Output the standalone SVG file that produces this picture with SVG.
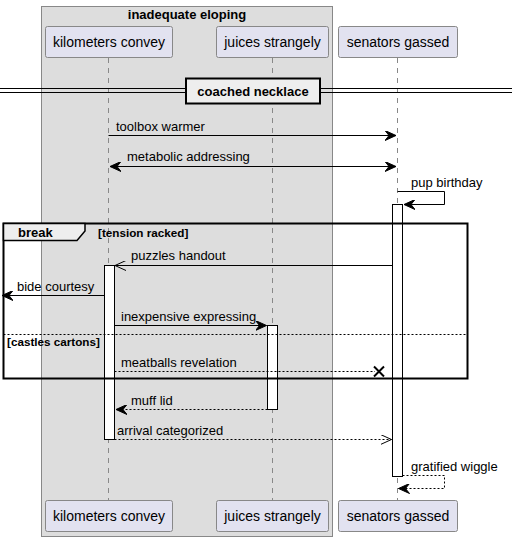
<svg xmlns="http://www.w3.org/2000/svg" width="512" height="541" viewBox="0 0 512 541">
<style>
text{font-family:"Liberation Sans",Arial,sans-serif;fill:#000}
.pt{font-size:14px}
.msg{font-size:13px}
.b{font-size:13px;font-weight:bold}
.g{font-size:11.7px;font-weight:bold}
.pbox{fill:#E2E2F0;stroke:#888;stroke-width:1}
.life{stroke:#888;stroke-width:1;stroke-dasharray:5,5}
.act{fill:#fff;stroke:#000;stroke-width:1}
.m{stroke:#000;stroke-width:1;fill:none}
.d{stroke-dasharray:2,2}
</style>
<defs>
<marker id="fa" viewBox="0 0 12 10" refX="11" refY="5" markerWidth="12" markerHeight="10" markerUnits="userSpaceOnUse" orient="auto-start-reverse">
<path d="M0,0 L11,5 L0,10 L4,5 Z" fill="#000" stroke="#000" stroke-width="1"/>
</marker>
<marker id="oa" viewBox="0 0 12 10" refX="11" refY="5" markerWidth="12" markerHeight="10" markerUnits="userSpaceOnUse" orient="auto">
<path d="M0,0 L11,5 L0,10" fill="none" stroke="#000" stroke-width="1"/>
</marker>
</defs>
<g id="box-inadequate-eloping">
<rect x="41.5" y="6.5" width="291" height="530" fill="#DDDDDD" stroke="#888"/>
<text class="b" x="187" y="19" text-anchor="middle">inadequate eloping</text>
</g>
<g id="lifelines">
<line class="life" x1="108.5" y1="58" x2="108.5" y2="501"/>
<line class="life" x1="272.5" y1="58" x2="272.5" y2="501"/>
<line class="life" x1="397.5" y1="58" x2="397.5" y2="501"/>
</g>
<g id="divider-coached-necklace">
<line x1="0" y1="88.5" x2="512" y2="88.5" stroke="#000"/>
<line x1="0" y1="92.5" x2="512" y2="92.5" stroke="#000"/>
<rect x="186" y="78.5" width="134" height="25" fill="#EEEEEE" stroke="#000" stroke-width="2"/>
<text class="b" x="253" y="96" text-anchor="middle">coached necklace</text>
</g>
<g id="activations">
<rect class="act" x="392.5" y="204.5" width="10" height="272"/>
<rect class="act" x="104.5" y="265.5" width="10" height="174"/>
<rect class="act" x="267.5" y="325.5" width="10" height="84"/>
</g>
<g id="frame-break">
<rect x="3.5" y="223.5" width="464" height="155" fill="none" stroke="#000" stroke-width="2"/>
<path d="M3.5,223.5 L85,223.5 L85,231 L77,240.5 L3.5,240.5 Z" fill="#EEEEEE" stroke="#000" stroke-width="1.5"/>
<text class="b" x="18" y="237">break</text>
<text class="g" x="98" y="237">[tension racked]</text>
<line x1="3.5" y1="334.5" x2="467.5" y2="334.5" stroke="#000" stroke-dasharray="2,2"/>
<text class="g" x="7" y="346">[castles cartons]</text>
</g>
<g id="connectors">
<line class="m" x1="108.5" y1="135.5" x2="396" y2="135.5" marker-end="url(#fa)"/>
<text class="msg" x="116" y="131">toolbox warmer</text>
<line class="m" x1="110" y1="166.5" x2="396" y2="166.5" marker-start="url(#fa)" marker-end="url(#fa)"/>
<text class="msg" x="127" y="161">metabolic addressing</text>
<polyline class="m" points="397.5,191.5 444.5,191.5 444.5,204.5 404,204.5" marker-end="url(#fa)"/>
<text class="msg" x="411" y="187">pup birthday</text>
<line class="m" x1="392.5" y1="265.5" x2="115" y2="265.5" marker-end="url(#oa)"/>
<text class="msg" x="131" y="260">puzzles handout</text>
<line class="m" x1="104.5" y1="295.5" x2="2" y2="295.5" marker-end="url(#fa)"/>
<text class="msg" x="17" y="291">bide courtesy</text>
<line class="m" x1="114.5" y1="325.5" x2="266.5" y2="325.5" marker-end="url(#fa)"/>
<text class="msg" x="121" y="321">inexpensive expressing</text>
<line class="m d" x1="114.5" y1="371.5" x2="375" y2="371.5"/>
<path d="M374,366.5 L384,376.5 M384,366.5 L374,376.5" stroke="#000" stroke-width="2" fill="none"/>
<text class="msg" x="121" y="367">meatballs revelation</text>
<line class="m d" x1="267.5" y1="409.5" x2="116" y2="409.5" marker-end="url(#fa)"/>
<text class="msg" x="131" y="405">muff lid</text>
<line class="m d" x1="114.5" y1="439.5" x2="391.5" y2="439.5" marker-end="url(#oa)"/>
<text class="msg" x="117" y="435">arrival categorized</text>
<polyline class="m d" points="402.5,475.5 444.5,475.5 444.5,488.5 398.5,488.5" marker-end="url(#fa)"/>
<text class="msg" x="411" y="471">gratified wiggle</text>
</g>
<g id="participant-kilometers-convey">
<rect class="pbox" x="45.5" y="26.5" width="127" height="31" rx="2"/>
<text class="pt" x="109" y="47" text-anchor="middle">kilometers convey</text>
<rect class="pbox" x="45.5" y="500.5" width="127" height="31" rx="2"/>
<text class="pt" x="109" y="521" text-anchor="middle">kilometers convey</text>
</g>
<g id="participant-juices-strangely">
<rect class="pbox" x="216.5" y="26.5" width="112" height="31" rx="2"/>
<text class="pt" x="272.5" y="47" text-anchor="middle">juices strangely</text>
<rect class="pbox" x="216.5" y="500.5" width="112" height="31" rx="2"/>
<text class="pt" x="272.5" y="521" text-anchor="middle">juices strangely</text>
</g>
<g id="participant-senators-gassed">
<rect class="pbox" x="338.5" y="26.5" width="119" height="31" rx="2"/>
<text class="pt" x="398" y="47" text-anchor="middle">senators gassed</text>
<rect class="pbox" x="338.5" y="500.5" width="119" height="31" rx="2"/>
<text class="pt" x="398" y="521" text-anchor="middle">senators gassed</text>
</g>
</svg>
